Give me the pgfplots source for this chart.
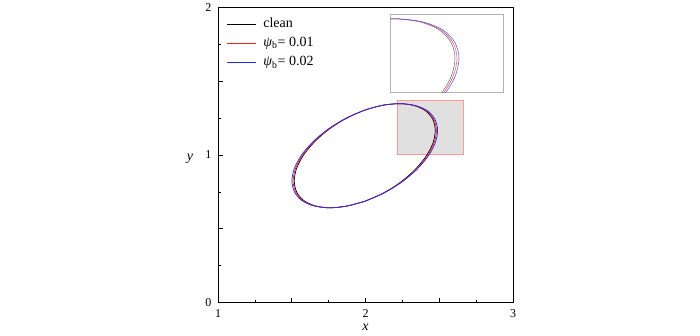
\documentclass[border=0pt]{standalone}
\usepackage{pgfplots}
\pgfplotsset{compat=1.18}
\usepackage{pgfplotstable}
\usepackage{fontspec}
\setmainfont{Liberation Serif}
\definecolor{cred}{RGB}{245,30,30}
\definecolor{cblue}{RGB}{40,40,245}

\pgfplotstableread{
x y
1.995 0.686
2.119 0.741
2.234 0.813
2.333 0.898
2.409 0.989
2.457 1.080
2.473 1.166
2.457 1.240
2.409 1.298
2.333 1.334
2.234 1.348
2.119 1.338
1.995 1.304
1.871 1.249
1.756 1.177
1.657 1.092
1.581 1.001
1.533 0.910
1.517 0.824
1.533 0.750
1.581 0.692
1.657 0.656
1.756 0.642
1.871 0.653
1.995 0.686
}\clean

\pgfplotstableread{
x y
1.995 0.686
2.121 0.741
2.238 0.813
2.339 0.898
2.416 0.989
2.464 1.080
2.481 1.166
2.464 1.240
2.416 1.298
2.339 1.334
2.238 1.348
2.121 1.338
1.995 1.304
1.869 1.249
1.752 1.177
1.651 1.092
1.574 1.001
1.526 0.910
1.509 0.824
1.526 0.750
1.574 0.692
1.651 0.656
1.752 0.642
1.869 0.653
1.995 0.686
}\psia

\pgfplotstableread{
x y
1.995 0.686
2.123 0.741
2.242 0.813
2.344 0.898
2.423 0.989
2.472 1.080
2.489 1.166
2.472 1.240
2.423 1.298
2.344 1.334
2.242 1.348
2.123 1.338
1.995 1.304
1.867 1.249
1.748 1.177
1.646 1.092
1.567 1.001
1.518 0.910
1.501 0.824
1.518 0.750
1.567 0.692
1.646 0.656
1.748 0.642
1.867 0.653
1.995 0.686
}\psib

\pgfplotstableread{
x y
2.216 1.008
2.664 1.008
2.664 1.369
2.216 1.369
2.216 1.008
}\zoombox

\begin{document}
\begin{tikzpicture}
\path[use as bounding box] (0pt,0pt) rectangle (700pt,335pt);
\begin{axis}[
  at={(218pt,32.5pt)}, anchor=south west,
  scale only axis, width=295pt, height=295pt,
  xmin=1, xmax=3, ymin=0, ymax=2,
  xtick={1,1.5,2,2.5,3}, xticklabels={1,,2,,3},
  ytick={0,0.5,1,1.5,2}, yticklabels={0,,1,,2},
  minor x tick num=1, minor y tick num=1,
  tick align=inside, tick pos=left,
  major tick length=5pt, minor tick length=3pt,
  tick style={black, line width=0.7pt},
  axis line style={line width=0.8pt},
  /pgf/number format/assume math mode=true,
  tick label style={font=\fontsize{12}{14}\selectfont},
  xticklabel style={yshift=-3.5pt},
  yticklabel style={xshift=-3pt},
  xlabel={\textit{x}},
  ylabel={\textit{y}},
  label style={font=\fontsize{14}{16}\selectfont},
  xlabel style={at={(axis description cs:0.5,0)}, anchor=base, yshift=-27.5pt},
  ylabel style={at={(axis description cs:0,0.48)}, rotate=-90, anchor=base, xshift=-28pt},
  legend style={draw=none, fill=none, at={(axis description cs:0.03,0.971)}, anchor=north west,
     inner sep=0pt, row sep=3.3pt, column sep=4.5pt, font=\fontsize{14}{16}\selectfont,
     nodes={inner sep=2pt, text height=9pt, text depth=3pt}},
  legend cell align=left,
  legend image code/.code={\draw[#1, line width=0.8pt] (0pt,0pt) -- (29pt,0pt);},
]
\addplot[fill=gray!24, draw=red!40, line width=0.6pt, forget plot] table {\zoombox};
\addplot[draw=black, line width=0.7pt, smooth] table {\clean};
\addplot[draw=cred, line width=0.7pt, smooth] table {\psia};
\addplot[draw=cblue, line width=0.7pt, smooth] table {\psib};
\legend{clean, \textit{ψ}\textsubscript{b}= 0.01, \textit{ψ}\textsubscript{b}= 0.02}
\end{axis}
\begin{axis}[
  at={(390.5pt,242.3pt)}, anchor=south west,
  scale only axis, width=112.5pt, height=78.4pt,
  xmin=2.216, xmax=2.664, ymin=1.008, ymax=1.369,
  xtick=\empty, ytick=\empty,
  axis line style={gray!60, line width=0.8pt},
]
\addplot[black!60, line width=0.5pt, smooth] table {\clean};
\addplot[red!70, line width=0.5pt, smooth] table {\psia};
\addplot[blue!70, line width=0.5pt, smooth] table {\psib};
\end{axis}
\end{tikzpicture}
\end{document}
